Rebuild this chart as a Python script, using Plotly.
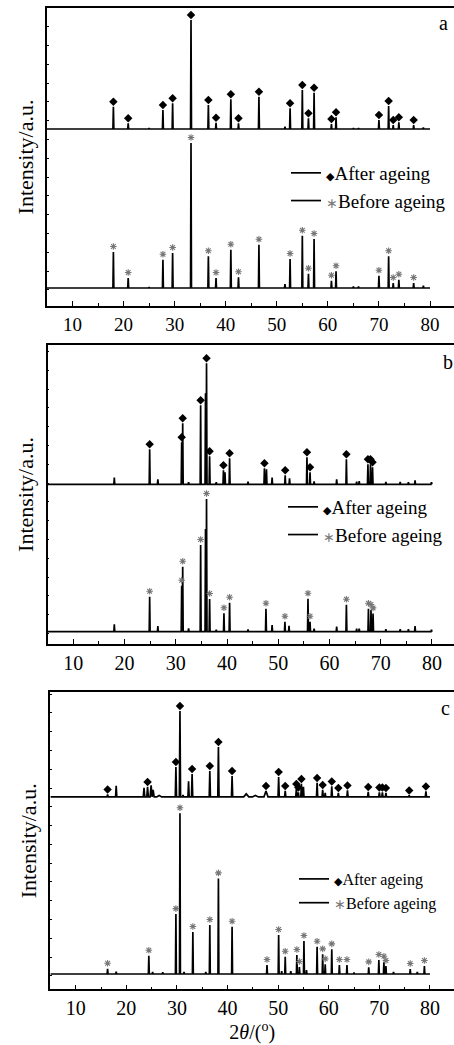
import plotly.graph_objects as go

# ---------------- data (2theta in degrees, intensity in a.u.) ----------------
# Panel a
a_pos = [18.0, 20.9, 25.0, 27.7, 29.6, 33.2, 36.6, 38.1, 41.0, 42.5, 46.5, 51.6, 52.6,
         55.0, 56.2, 57.3, 60.7, 61.6, 65.0, 66.0, 70.0, 71.9, 72.8, 73.9, 76.8, 78.7]
a_after = [22.3, 5.7, 1.0, 19.0, 25.7, 109.0, 24.0, 6.3, 29.7, 5.7, 32.3, 2.3, 20.7,
           39.0, 10.7, 36.3, 5.0, 11.7, 1.0, 1.0, 9.0, 23.0, 4.0, 6.7, 4.0, 1.5]
a_before = [36.0, 10.0, 1.0, 28.3, 35.0, 145.0, 31.7, 10.0, 38.3, 10.7, 43.3, 4.0, 29.0,
            52.3, 14.3, 49.0, 7.3, 16.7, 1.5, 1.5, 12.3, 31.7, 5.0, 8.3, 5.0, 2.3]
a_after_marks = [18.0, 20.9, 27.7, 29.6, 33.2, 36.6, 38.1, 41.0, 42.5, 46.5, 52.6, 55.0,
                 56.2, 57.3, 60.7, 61.6, 70.0, 71.9, 72.8, 73.9, 76.8]
a_before_marks = a_after_marks
a_offset = 159.0

# Panel b
b_after_pos = [18.0, 24.9, 26.5, 31.15, 31.35, 32.5, 34.85, 35.8, 36.0, 36.6, 37.9, 39.3,
               39.6, 40.5, 44.1, 47.3, 47.7, 48.8, 51.35, 52.2, 55.6, 56.2, 57.0, 61.4,
               63.3, 65.3, 65.8, 67.5, 68.0, 68.4, 71.0, 73.8, 75.4, 76.7, 79.9]
b_after = [6.7, 35.0, 5.0, 42.0, 61.0, 2.0, 79.0, 91.0, 121.0, 28.0, 2.0, 14.0,
           12.0, 26.0, 2.7, 16.0, 15.0, 6.7, 9.0, 6.0, 27.0, 12.0, 3.0, 5.0,
           25.0, 2.7, 3.3, 20.0, 20.0, 17.0, 2.5, 2.5, 2.0, 4.0, 2.0]
b_after_marks = [24.9, 31.15, 31.35, 34.85, 36.0, 36.6, 39.3, 40.5, 47.3, 51.35, 55.6,
                 56.2, 63.3, 67.5, 68.0, 68.4]
b_before_pos = [18.0, 24.9, 26.5, 31.15, 31.35, 32.5, 34.85, 35.8, 36.0, 36.6, 37.9, 39.4,
                40.5, 44.1, 47.6, 48.8, 51.3, 52.1, 55.8, 56.2, 57.0, 61.4, 63.3, 65.3,
                65.8, 67.6, 68.1, 68.5, 71.0, 73.8, 75.4, 76.7, 79.9]
b_before = [7.3, 35.0, 5.7, 46.0, 65.0, 3.3, 86.7, 102.7, 132.7, 32.7, 2.0, 18.4,
            29.0, 2.3, 23.0, 6.7, 10.0, 6.0, 33.0, 10.0, 3.0, 5.0, 27.0, 3.0,
            3.0, 23.0, 21.7, 18.3, 2.5, 2.5, 2.5, 5.7, 2.0]
b_before_marks = [24.9, 31.15, 31.35, 34.85, 36.0, 36.6, 39.4, 40.5, 47.6, 51.3, 55.8,
                  56.2, 63.3, 67.6, 68.1, 68.5]
b_offset = 147.4

# Panel c
c_after_pos = [16.3, 18.0, 23.5, 24.2, 24.9, 25.3, 26.5, 29.8, 30.6, 31.2, 32.3, 33.0,
               36.5, 38.2, 40.9, 43.7, 45.5, 47.6, 50.1, 51.4, 53.6, 54.0, 54.6, 55.0,
               57.7, 58.8, 59.3, 60.6, 61.9, 63.7, 67.8, 70.0, 70.6, 71.3, 75.9, 79.2]
c_after = [2.5, 11.0, 9.0, 10.0, 11.7, 7.0, 1.5, 30.0, 86.0, 2.0, 15.7, 23.0,
           26.0, 50.0, 21.0, 3.0, 1.5, 6.0, 20.0, 6.0, 8.0, 4.5, 13.0, 10.0,
           14.0, 7.0, 4.0, 10.5, 4.0, 6.5, 5.0, 4.5, 4.5, 4.0, 1.5, 5.5]
c_after_width = [0.12, 0.12, 0.15, 0.15, 0.2, 0.2, 0.5, 0.12, 0.12, 0.1, 0.12, 0.12,
                 0.12, 0.12, 0.12, 0.5, 0.6, 0.4, 0.12, 0.12, 0.12, 0.1, 0.12, 0.1,
                 0.12, 0.12, 0.1, 0.12, 0.12, 0.12, 0.12, 0.12, 0.12, 0.12, 0.12, 0.12]
c_after_marks = [16.3, 24.2, 29.8, 30.6, 33.0, 36.5, 38.2, 40.9, 47.6, 50.1, 51.4, 53.6,
                 54.0, 54.6, 57.7, 58.8, 60.6, 61.9, 63.7, 67.8, 70.0, 70.6, 71.3, 75.9, 79.2]
c_before_pos = [16.3, 18.0, 24.45, 25.2, 27.2, 29.8, 30.6, 31.4, 33.15, 35.7, 36.5, 38.2,
                40.9, 47.8, 50.1, 50.7, 51.4, 52.5, 53.7, 54.2, 55.1, 55.6, 57.7, 58.8,
                59.3, 60.6, 62.1, 63.6, 65.0, 67.9, 69.9, 70.9, 71.3, 72.8, 76.1, 77.5, 78.9]
c_before = [5.3, 2.3, 18.3, 2.0, 1.7, 60.0, 161.0, 2.0, 42.0, 2.0, 49.0, 95.7,
            47.3, 9.0, 39.0, 3.0, 17.3, 3.0, 19.0, 7.0, 33.0, 4.0, 27.3, 19.7,
            9.7, 24.7, 9.0, 9.0, 1.5, 6.7, 14.0, 12.3, 8.0, 2.0, 5.0, 2.0, 8.0]
c_before_marks = [16.3, 24.45, 29.8, 30.6, 33.15, 36.5, 38.2, 40.9, 47.8, 50.1, 51.4,
                  53.7, 54.2, 55.1, 57.7, 58.8, 59.3, 60.6, 62.1, 63.6, 67.9, 69.9,
                  70.9, 71.3, 76.1, 78.9]
c_offset = 177.3

X_START, X_END = 5.0, 80.0
x_ticks = [10, 20, 30, 40, 50, 60, 70, 80]

# ---------------- helpers ----------------
SERIF = "Liberation Serif"


def profile(pos, hts, offset, widths=None, default_w=0.09):
    xs, ys = [X_START], [offset]
    for i, (p, h) in enumerate(zip(pos, hts)):
        w = widths[i] if widths else default_w
        xs += [p - w, p, p + w]
        ys += [offset, offset + h, offset]
    xs.append(X_END)
    ys.append(offset)
    return xs, ys


def mark_y(marks, pos, hts, offset, gap):
    lut = dict(zip(pos, hts))
    return [offset + lut[m] + gap for m in marks]


fig = go.Figure()

panels = [
    dict(key="", leg="legend", ap=a_pos, ah=a_after, bp=a_pos, bh=a_before, aw=None,
         am=a_after_marks, bm=a_before_marks, off=a_offset),
    dict(key="2", leg="legend2", ap=b_after_pos, ah=b_after, bp=b_before_pos, bh=b_before, aw=None,
         am=b_after_marks, bm=b_before_marks, off=b_offset),
    dict(key="3", leg="legend3", ap=c_after_pos, ah=c_after, bp=c_before_pos, bh=c_before,
         aw=c_after_width, am=c_after_marks, bm=c_before_marks, off=c_offset),
]

after_name = "<span style='font-family:DejaVu Sans;font-size:11px'>◆</span>After ageing"
before_name = "<span style='color:#7a7a7a;font-size:14px'>∗</span>Before ageing"

for p in panels:
    xa, ya = "x" + p["key"], "y" + p["key"]
    x1, y1 = profile(p["ap"], p["ah"], p["off"], p["aw"])
    x2, y2 = profile(p["bp"], p["bh"], 0.0)
    fig.add_trace(go.Scatter(x=x1, y=y1, mode="lines", line=dict(color="black", width=1.7),
                             name=after_name, legend=p["leg"], xaxis=xa, yaxis=ya))
    fig.add_trace(go.Scatter(x=x2, y=y2, mode="lines", line=dict(color="black", width=1.7),
                             name=before_name, legend=p["leg"], xaxis=xa, yaxis=ya))
    fig.add_trace(go.Scatter(x=p["am"], y=mark_y(p["am"], p["ap"], p["ah"], p["off"], 5.0),
                             mode="markers", marker=dict(symbol="diamond", size=6.5, color="black"),
                             showlegend=False, xaxis=xa, yaxis=ya, hoverinfo="skip"))
    fig.add_trace(go.Scatter(x=p["bm"], y=mark_y(p["bm"], p["bp"], p["bh"], 0.0, 5.5),
                             mode="markers",
                             marker=dict(symbol="asterisk-open", size=5.5, color="#777777",
                                         line=dict(color="#777777", width=1.1)),
                             showlegend=False, xaxis=xa, yaxis=ya, hoverinfo="skip"))

H = 1045.0
W = 454.0


def ydom(top, bottom):
    return [1 - bottom / H, 1 - top / H]


axis_common = dict(showline=True, linecolor="black", linewidth=1.5, showgrid=False,
                   zeroline=False)

xcfg = [
    dict(left=47.0, rng=[5, 84.7], font=19),
    dict(left=47.7, rng=[5, 84.3], font=20),
    dict(left=50.4, rng=[5, 84.75], font=20),
]
ycfg = [
    dict(dom=ydom(8, 306), rng=[-18, 280]),
    dict(dom=ydom(345, 644), rng=[-12.3, 286.7]),
    dict(dom=ydom(692.3, 989.3), rng=[-15.3, 282]),
]

layout = dict(width=454, height=1045, margin=dict(l=0, r=0, t=0, b=0),
              plot_bgcolor="white", paper_bgcolor="white",
              font=dict(family=SERIF, color="black"))

for i, key in enumerate(["", "2", "3"]):
    xc, yc = xcfg[i], ycfg[i]
    xd = dict(
        axis_common, domain=[xc["left"] / W, 1.0], range=xc["rng"], anchor="y" + key,
        mirror=True, ticks="inside", ticklen=5, tickwidth=1, tickcolor="black",
        tickvals=x_ticks, tickfont=dict(size=xc["font"], family=SERIF),
        minor=dict(ticks="inside", ticklen=3, dtick=5, tick0=5, tickcolor="black"),
    )
    if key == "3":
        xd["title"] = dict(text="2<i>θ</i>/(<sup>o</sup>)", font=dict(size=20, family=SERIF),
                           standoff=2)
    layout["xaxis" + key] = xd
    layout["yaxis" + key] = dict(
        axis_common, domain=yc["dom"], range=yc["rng"], anchor="x" + key,
        ticks="inside", ticklen=2, tickwidth=1, tickcolor="black",
        tick0=17, dtick=18.8, showticklabels=False,
        title=dict(text="Intensity/a.u.", font=dict(size=22, family=SERIF), standoff=6),
    )

legend_common = dict(bgcolor="rgba(0,0,0,0)", borderwidth=0, xanchor="left", yanchor="top",
                     tracegroupgap=0)
layout["legend"] = dict(legend_common, x=286 / W, y=1 - 154 / H, font=dict(size=19, family=SERIF))
layout["legend2"] = dict(legend_common, x=283 / W, y=1 - 488 / H, font=dict(size=19, family=SERIF))
layout["legend3"] = dict(legend_common, x=294 / W, y=1 - 862 / H, font=dict(size=16, family=SERIF))

layout["annotations"] = [
    dict(text="a", x=443 / W, y=1 - 23 / H, xref="paper", yref="paper", showarrow=False,
         xanchor="center", yanchor="middle", font=dict(size=20, family=SERIF)),
    dict(text="b", x=448 / W, y=1 - 362 / H, xref="paper", yref="paper", showarrow=False,
         xanchor="center", yanchor="middle", font=dict(size=20, family=SERIF)),
    dict(text="c", x=445 / W, y=1 - 708 / H, xref="paper", yref="paper", showarrow=False,
         xanchor="center", yanchor="middle", font=dict(size=20, family=SERIF)),
]

fig.update_layout(**layout)
fig.write_html("out.html", config={"displayModeBar": False},
               post_script="document.body.style.margin='0';document.body.style.overflow='hidden';")
